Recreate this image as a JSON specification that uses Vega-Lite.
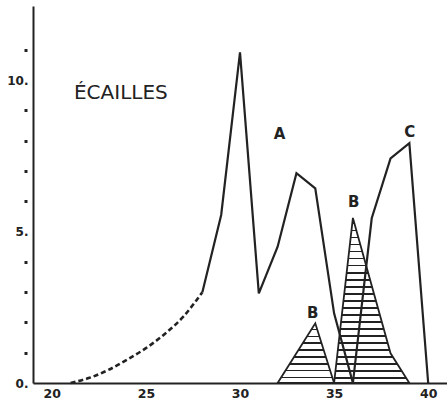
{
  "$schema": "https://vega.github.io/schema/vega-lite/v6.json",
  "width": 414,
  "height": 377,
  "autosize": {"type": "none"},
  "padding": {"left": 33, "top": 6, "right": 0, "bottom": 22},
  "background": "white",
  "config": {"view": {"stroke": null}},
  "datasets": {
    "lines": [
      {"x": 21, "y": 0, "s": "dash"},
      {"x": 22, "y": 0.17, "s": "dash"},
      {"x": 23, "y": 0.43, "s": "dash"},
      {"x": 24, "y": 0.77, "s": "dash"},
      {"x": 25, "y": 1.15, "s": "dash"},
      {"x": 26, "y": 1.62, "s": "dash"},
      {"x": 27, "y": 2.2, "s": "dash"},
      {"x": 28, "y": 3.0, "s": "dash"},
      {"x": 28, "y": 3.0, "s": "A"},
      {"x": 29, "y": 5.55, "s": "A"},
      {"x": 30, "y": 10.92, "s": "A"},
      {"x": 31, "y": 2.96, "s": "A"},
      {"x": 32, "y": 4.5, "s": "A"},
      {"x": 33, "y": 6.93, "s": "A"},
      {"x": 34, "y": 6.43, "s": "A"},
      {"x": 35, "y": 2.3, "s": "A"},
      {"x": 36, "y": 0, "s": "A"},
      {"x": 36, "y": 0, "s": "C"},
      {"x": 37, "y": 5.44, "s": "C"},
      {"x": 38, "y": 7.42, "s": "C"},
      {"x": 39, "y": 7.92, "s": "C"},
      {"x": 40, "y": 0, "s": "C"}
    ],
    "b1": [
      {"x": 32, "y": 0},
      {"x": 34, "y": 1.97},
      {"x": 35, "y": 0}
    ],
    "b2": [
      {"x": 35, "y": 0},
      {"x": 36, "y": 5.45},
      {"x": 38, "y": 0.98},
      {"x": 39, "y": 0}
    ],
    "letters": [
      {"x": 32.1, "y": 8.22, "t": "A"},
      {"x": 39.02, "y": 8.29, "t": "C"},
      {"x": 36.04, "y": 5.99, "t": "B"},
      {"x": 33.86, "y": 2.3, "t": "B"}
    ],
    "title": [
      {"x": 23.67, "y": 9.57, "t": "ÉCAILLES"}
    ]
  },
  "layer": [
    {
      "data": {"name": "b1"},
      "mark": {
        "type": "area",
        "stroke": "#222",
        "strokeWidth": 1.8,
        "fill": {
          "gradient": "linear", "x1": 0, "y1": 0, "x2": 0, "y2": 1,
          "stops": [
            {"offset": 0, "color": "white"},
            {"offset": 0.09, "color": "white"}, {"offset": 0.09, "color": "#222"}, {"offset": 0.114, "color": "#222"}, {"offset": 0.114, "color": "white"},
            {"offset": 0.2055, "color": "white"}, {"offset": 0.2055, "color": "#222"}, {"offset": 0.229, "color": "#222"}, {"offset": 0.229, "color": "white"},
            {"offset": 0.321, "color": "white"}, {"offset": 0.321, "color": "#222"}, {"offset": 0.345, "color": "#222"}, {"offset": 0.345, "color": "white"},
            {"offset": 0.4365, "color": "white"}, {"offset": 0.4365, "color": "#222"}, {"offset": 0.46, "color": "#222"}, {"offset": 0.46, "color": "white"},
            {"offset": 0.552, "color": "white"}, {"offset": 0.552, "color": "#222"}, {"offset": 0.576, "color": "#222"}, {"offset": 0.576, "color": "white"},
            {"offset": 0.6675, "color": "white"}, {"offset": 0.6675, "color": "#222"}, {"offset": 0.691, "color": "#222"}, {"offset": 0.691, "color": "white"},
            {"offset": 0.783, "color": "white"}, {"offset": 0.783, "color": "#222"}, {"offset": 0.807, "color": "#222"}, {"offset": 0.807, "color": "white"},
            {"offset": 0.8985, "color": "white"}, {"offset": 0.8985, "color": "#222"}, {"offset": 0.922, "color": "#222"}, {"offset": 0.922, "color": "white"},
            {"offset": 1, "color": "white"}
          ]
        }
      },
      "encoding": {
        "x": {
          "field": "x", "type": "quantitative",
          "scale": {"domain": [19, 41], "nice": false, "zero": false},
          "axis": {
            "title": null, "values": [20, 25, 30, 35, 40], "tickCount": 20, "ticks": false, "grid": false,
            "domainColor": "#222", "domainWidth": 2,
            "labelFont": "DejaVu Sans", "labelFontWeight": "bold", "labelFontSize": 12.5, "labelColor": "#222",
            "labelPadding": 4, "labelOverlap": false, "zindex": 1
          }
        },
        "y": {
          "field": "y", "type": "quantitative",
          "scale": {"domain": [0, 12.45], "nice": false},
          "axis": {
            "title": null, "values": [0, 1, 2, 3, 4, 5, 6, 7, 8, 9, 10, 11], "tickCount": 30, "grid": false,
            "domainColor": "#222", "domainWidth": 2,
            "tickColor": "#222", "tickSize": 9, "tickWidth": 3, "tickDash": [3, 20], "tickDashOffset": -6,
            "tickOpacity": {"condition": {"test": "datum.value % 5 === 0", "value": 0}, "value": 1},
            "labelExpr": "datum.value % 5 === 0 ? datum.value + '.' : ''",
            "labelFont": "DejaVu Sans", "labelFontWeight": "bold", "labelFontSize": 12, "labelColor": "#222",
            "labelPadding": -4, "labelBaseline": "middle", "labelOverlap": false, "labelBound": false, "zindex": 1
          }
        }
      }
    },
    {
      "data": {"name": "b2"},
      "mark": {
        "type": "area",
        "stroke": "#222",
        "strokeWidth": 1.8,
        "fill": {
          "gradient": "linear", "x1": 0, "y1": 0, "x2": 0, "y2": 1,
          "stops": [
            {"offset": 0, "color": "white"},
            {"offset": 0.03, "color": "white"}, {"offset": 0.03, "color": "#222"}, {"offset": 0.039, "color": "#222"}, {"offset": 0.039, "color": "white"},
            {"offset": 0.0725, "color": "white"}, {"offset": 0.0725, "color": "#222"}, {"offset": 0.0815, "color": "#222"}, {"offset": 0.0815, "color": "white"},
            {"offset": 0.115, "color": "white"}, {"offset": 0.115, "color": "#222"}, {"offset": 0.124, "color": "#222"}, {"offset": 0.124, "color": "white"},
            {"offset": 0.1575, "color": "white"}, {"offset": 0.1575, "color": "#222"}, {"offset": 0.1665, "color": "#222"}, {"offset": 0.1665, "color": "white"},
            {"offset": 0.2, "color": "white"}, {"offset": 0.2, "color": "#222"}, {"offset": 0.209, "color": "#222"}, {"offset": 0.209, "color": "white"},
            {"offset": 0.2425, "color": "white"}, {"offset": 0.2425, "color": "#222"}, {"offset": 0.2515, "color": "#222"}, {"offset": 0.2515, "color": "white"},
            {"offset": 0.285, "color": "white"}, {"offset": 0.285, "color": "#222"}, {"offset": 0.294, "color": "#222"}, {"offset": 0.294, "color": "white"},
            {"offset": 0.3275, "color": "white"}, {"offset": 0.3275, "color": "#222"}, {"offset": 0.3365, "color": "#222"}, {"offset": 0.3365, "color": "white"},
            {"offset": 0.37, "color": "white"}, {"offset": 0.37, "color": "#222"}, {"offset": 0.379, "color": "#222"}, {"offset": 0.379, "color": "white"},
            {"offset": 0.4125, "color": "white"}, {"offset": 0.4125, "color": "#222"}, {"offset": 0.4215, "color": "#222"}, {"offset": 0.4215, "color": "white"},
            {"offset": 0.455, "color": "white"}, {"offset": 0.455, "color": "#222"}, {"offset": 0.464, "color": "#222"}, {"offset": 0.464, "color": "white"},
            {"offset": 0.4975, "color": "white"}, {"offset": 0.4975, "color": "#222"}, {"offset": 0.5065, "color": "#222"}, {"offset": 0.5065, "color": "white"},
            {"offset": 0.54, "color": "white"}, {"offset": 0.54, "color": "#222"}, {"offset": 0.549, "color": "#222"}, {"offset": 0.549, "color": "white"},
            {"offset": 0.5825, "color": "white"}, {"offset": 0.5825, "color": "#222"}, {"offset": 0.5915, "color": "#222"}, {"offset": 0.5915, "color": "white"},
            {"offset": 0.625, "color": "white"}, {"offset": 0.625, "color": "#222"}, {"offset": 0.634, "color": "#222"}, {"offset": 0.634, "color": "white"},
            {"offset": 0.6675, "color": "white"}, {"offset": 0.6675, "color": "#222"}, {"offset": 0.6765, "color": "#222"}, {"offset": 0.6765, "color": "white"},
            {"offset": 0.71, "color": "white"}, {"offset": 0.71, "color": "#222"}, {"offset": 0.719, "color": "#222"}, {"offset": 0.719, "color": "white"},
            {"offset": 0.7525, "color": "white"}, {"offset": 0.7525, "color": "#222"}, {"offset": 0.7615, "color": "#222"}, {"offset": 0.7615, "color": "white"},
            {"offset": 0.795, "color": "white"}, {"offset": 0.795, "color": "#222"}, {"offset": 0.804, "color": "#222"}, {"offset": 0.804, "color": "white"},
            {"offset": 0.8375, "color": "white"}, {"offset": 0.8375, "color": "#222"}, {"offset": 0.8465, "color": "#222"}, {"offset": 0.8465, "color": "white"},
            {"offset": 0.88, "color": "white"}, {"offset": 0.88, "color": "#222"}, {"offset": 0.889, "color": "#222"}, {"offset": 0.889, "color": "white"},
            {"offset": 0.9225, "color": "white"}, {"offset": 0.9225, "color": "#222"}, {"offset": 0.9315, "color": "#222"}, {"offset": 0.9315, "color": "white"},
            {"offset": 0.965, "color": "white"}, {"offset": 0.965, "color": "#222"}, {"offset": 0.974, "color": "#222"}, {"offset": 0.974, "color": "white"},
            {"offset": 1, "color": "white"}
          ]
        }
      },
      "encoding": {
        "x": {"field": "x", "type": "quantitative"},
        "y": {"field": "y", "type": "quantitative"}
      }
    },
    {
      "data": {"name": "lines"},
      "transform": [{"filter": "datum.s !== 'dash'"}],
      "mark": {"type": "line", "stroke": "#222", "strokeWidth": 2.2, "strokeJoin": "miter"},
      "encoding": {
        "x": {"field": "x", "type": "quantitative"},
        "y": {"field": "y", "type": "quantitative"},
        "detail": {"field": "s"}
      }
    },
    {
      "data": {"name": "lines"},
      "transform": [{"filter": "datum.s === 'dash'"}],
      "mark": {"type": "line", "stroke": "#222", "strokeWidth": 2.6, "strokeDash": [5, 3], "interpolate": "monotone"},
      "encoding": {
        "x": {"field": "x", "type": "quantitative"},
        "y": {"field": "y", "type": "quantitative"}
      }
    },
    {
      "data": {"name": "letters"},
      "mark": {"type": "text", "font": "DejaVu Sans", "fontWeight": "bold", "fontSize": 15, "color": "#222", "baseline": "middle", "align": "center"},
      "encoding": {
        "x": {"field": "x", "type": "quantitative"},
        "y": {"field": "y", "type": "quantitative"},
        "text": {"field": "t"}
      }
    },
    {
      "data": {"name": "title"},
      "mark": {"type": "text", "font": "DejaVu Sans", "fontSize": 20, "color": "#222", "baseline": "middle", "align": "center"},
      "encoding": {
        "x": {"field": "x", "type": "quantitative"},
        "y": {"field": "y", "type": "quantitative"},
        "text": {"field": "t"}
      }
    }
  ]
}
